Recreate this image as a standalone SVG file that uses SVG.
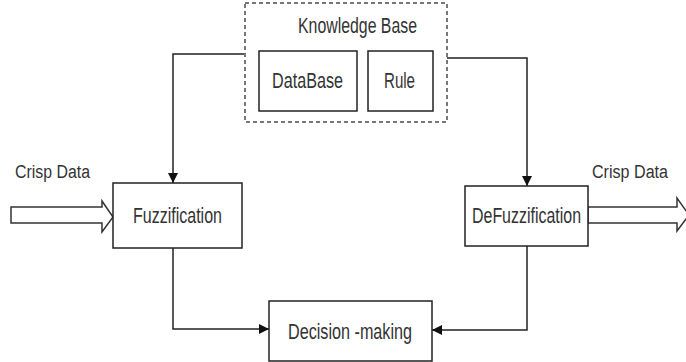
<svg xmlns="http://www.w3.org/2000/svg" width="686" height="362" viewBox="0 0 686 362">
<defs>
<style>
.box{fill:#fff;stroke:#222;stroke-width:1.5}
.kb{fill:#fff;stroke:#777;stroke-width:2;stroke-dasharray:4 3}
.t{font-family:"Liberation Sans",Arial,sans-serif;font-size:22px;fill:#333;text-anchor:middle}
.s{font-size:18px}
.c{fill:none;stroke:#222;stroke-width:1.5}
.hollow{fill:#fff;stroke:#333;stroke-width:1.5}
</style>
<marker id="ah" markerUnits="userSpaceOnUse" markerWidth="10" markerHeight="10" refX="10" refY="5" orient="auto">
<path d="M0,0 L10,5 L0,10 z" fill="#111"/>
</marker>
</defs>
<rect width="686" height="362" fill="#fff"/>
<g id="connectors">
<path class="c" d="M245,54 H173 V183" marker-end="url(#ah)"/>
<path class="c" d="M447,58 H527 V186" marker-end="url(#ah)"/>
<path class="c" d="M173,248 V329 H269" marker-end="url(#ah)"/>
<path class="c" d="M527,246 V330 H432" marker-end="url(#ah)"/>
<polygon class="hollow" points="11,207 102,207 102,201 113,217 102,232 102,223 11,223"/>
<polygon class="hollow" points="588,207 677,207 677,198 689,215 677,231 677,223 588,223"/>
</g>
<g id="knowledge-base">
<rect class="kb" x="245" y="3" width="202" height="119"/>
<text class="t" x="357.5" y="33" textLength="119" lengthAdjust="spacingAndGlyphs">Knowledge Base</text>
</g>
<g id="database">
<rect class="box" x="259" y="51" width="98" height="60"/>
<text class="t" x="307.5" y="88" textLength="71" lengthAdjust="spacingAndGlyphs">DataBase</text>
</g>
<g id="rule">
<rect class="box" x="368" y="51" width="65" height="60"/>
<text class="t" x="399.5" y="88" textLength="31" lengthAdjust="spacingAndGlyphs">Rule</text>
</g>
<g id="crisp-in">
<text class="t s" x="52.5" y="178" textLength="75" lengthAdjust="spacingAndGlyphs">Crisp Data</text>
</g>
<g id="fuzzification">
<rect class="box" x="113" y="183" width="129" height="65"/>
<text class="t" x="177.5" y="223" textLength="89" lengthAdjust="spacingAndGlyphs">Fuzzification</text>
</g>
<g id="defuzzification">
<rect class="box" x="465" y="186" width="123" height="60"/>
<text class="t" x="526.5" y="223" textLength="109" lengthAdjust="spacingAndGlyphs">DeFuzzification</text>
</g>
<g id="crisp-out">
<text class="t s" x="630" y="178" textLength="76" lengthAdjust="spacingAndGlyphs">Crisp Data</text>
</g>
<g id="decision-making">
<rect class="box" x="269" y="301" width="163" height="60"/>
<text class="t" x="350" y="339" textLength="124" lengthAdjust="spacingAndGlyphs">Decision -making</text>
</g>
</svg>
